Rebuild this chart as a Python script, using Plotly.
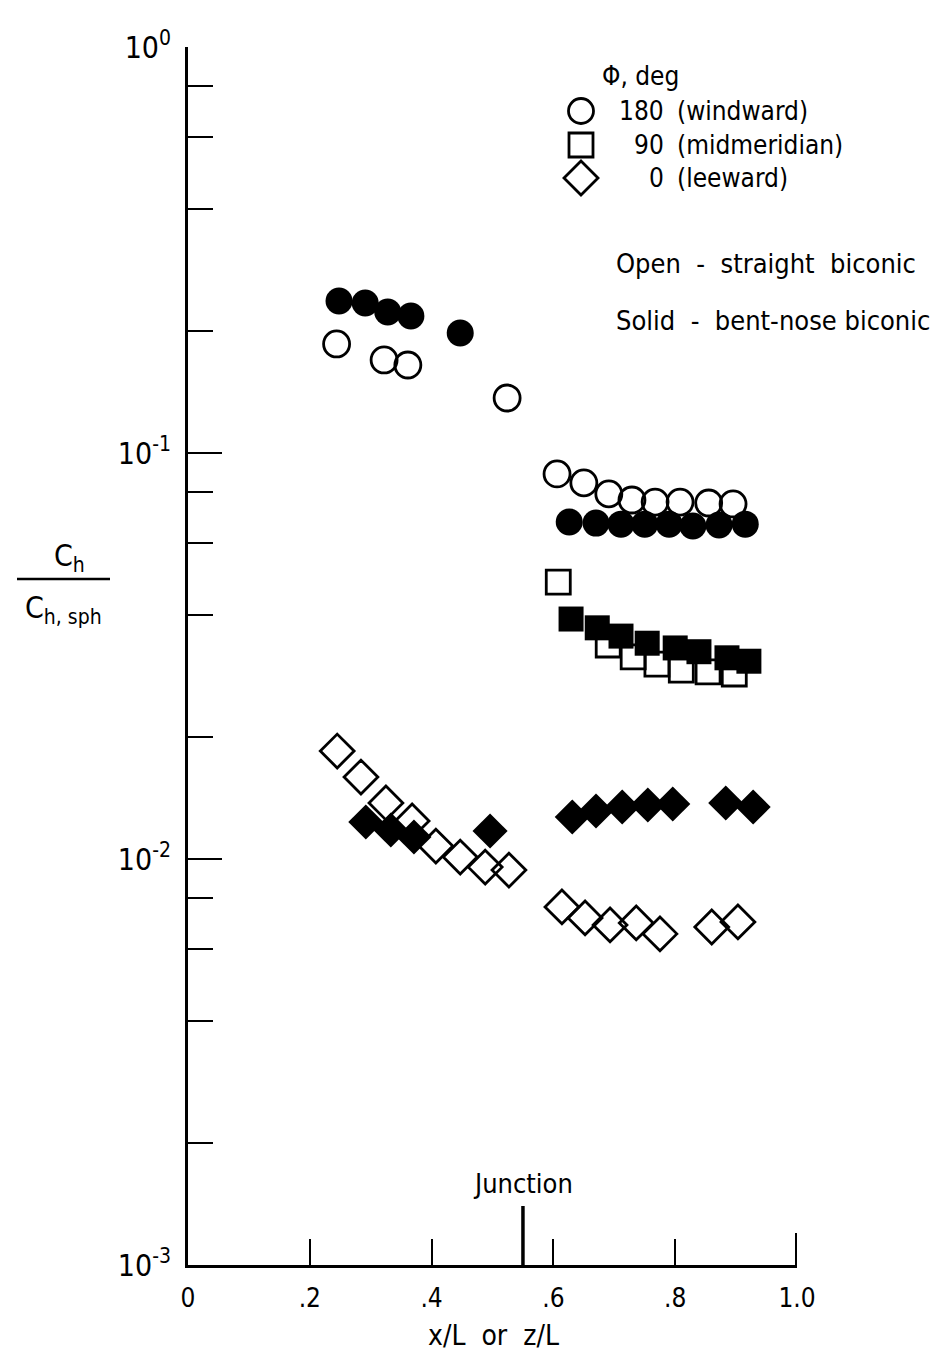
import plotly.graph_objects as go

# Heat-transfer ratio distributions along a biconic body (log scale)
# Straight biconic (open symbols)
wind_open_x = [0.244, 0.322, 0.361, 0.524, 0.606, 0.650, 0.691, 0.729, 0.767, 0.808, 0.855, 0.895]
wind_open_y = [0.1856, 0.1695, 0.1647, 0.1366, 0.0888, 0.0844, 0.0793, 0.0766, 0.0757, 0.0757, 0.0753, 0.0749]

mid_open_x = [0.608, 0.690, 0.731, 0.770, 0.810, 0.854, 0.897]
mid_open_y = [0.0481, 0.03366, 0.03145, 0.0302, 0.0292, 0.0289, 0.02855]

lee_open_x = [0.245, 0.284, 0.325, 0.368, 0.407, 0.447, 0.488, 0.527, 0.614, 0.652, 0.693, 0.736, 0.775, 0.860, 0.903]
lee_open_y = [0.01845, 0.01592, 0.01374, 0.01241, 0.01076, 0.01011, 0.00955, 0.00939,
              0.00762, 0.00716, 0.00688, 0.00696, 0.00654, 0.00680, 0.00700]

# Bent-nose biconic (solid symbols)
wind_solid_x = [0.248, 0.291, 0.328, 0.366, 0.447, 0.626, 0.670, 0.711, 0.750, 0.790, 0.829, 0.872, 0.915]
wind_solid_y = [0.2368, 0.2341, 0.2225, 0.2175, 0.1975, 0.0676, 0.0672, 0.0668, 0.0668, 0.0668, 0.0661, 0.0665, 0.0668]

mid_solid_x = [0.629, 0.672, 0.711, 0.754, 0.800, 0.839, 0.885, 0.921]
mid_solid_y = [0.0390, 0.0371, 0.0354, 0.0340, 0.0331, 0.0324, 0.0313, 0.0307]

lee_solid_x = [0.292, 0.333, 0.371, 0.496, 0.631, 0.670, 0.713, 0.755, 0.796, 0.883, 0.928]
lee_solid_y = [0.01234, 0.01179, 0.01133, 0.01172, 0.01269, 0.01313, 0.01343, 0.01358, 0.01366, 0.01374, 0.01343]

x_tickvals = [0, 0.2, 0.4, 0.6, 0.8, 1.0]
x_ticktext = ["0", ".2", ".4", ".6", ".8", "1.0"]
y_tickvals = [1e-3, 1e-2, 1e-1, 1e0]
y_ticktext = ["10<sup>-3</sup>", "10<sup>-2</sup>", "10<sup>-1</sup>", "10<sup>0</sup>"]
y_minorvals = [m * 10.0 ** e for e in (-3, -2, -1) for m in (2, 4, 6, 8)]
junction_x = 0.55

legend_rows = [("circle", "180", "(windward)"),
               ("square", "90", "(midmeridian)"),
               ("diamond", "0", "(leeward)")]

W, H = 952, 1356
ML, MR, MT, MB = 188, 155, 47, 91
PW, PH = W - ML - MR, H - MT - MB

FONT = "Liberation Sans Narrow, DejaVu Sans Condensed, Arial Narrow, sans-serif"
BLACK = "black"


def px(xp):
    return (xp - ML) / PW


def py(yp):
    return (H - MB - yp) / PH


fig = go.Figure()

open_sets = [(wind_open_x, wind_open_y, "circle-open", 26),
             (mid_open_x, mid_open_y, "square-open", 24),
             (lee_open_x, lee_open_y, "diamond-open", 26)]
solid_sets = [(wind_solid_x, wind_solid_y, "circle", 27),
              (mid_solid_x, mid_solid_y, "square", 25),
              (lee_solid_x, lee_solid_y, "diamond", 27)]

for xs, ys, sym, size in open_sets:
    fig.add_trace(go.Scatter(x=xs, y=ys, mode="markers", showlegend=False,
                             marker=dict(symbol=sym, size=size, color=BLACK,
                                         line=dict(width=2.8, color=BLACK))))
for xs, ys, sym, size in solid_sets:
    fig.add_trace(go.Scatter(x=xs, y=ys, mode="markers", showlegend=False,
                             marker=dict(symbol=sym, size=size, color=BLACK,
                                         line=dict(width=0, color=BLACK))))

fig.update_layout(
    width=W, height=H,
    margin=dict(l=ML, r=MR, t=MT, b=MB, pad=0),
    paper_bgcolor="white", plot_bgcolor="white",
    font=dict(family=FONT, color=BLACK, size=24),
    xaxis=dict(range=[0, 1.0], showline=True, linewidth=3, linecolor=BLACK,
               showgrid=False, zeroline=False, ticks="inside", ticklen=26,
               tickwidth=2, tickcolor=BLACK, tickvals=x_tickvals, ticktext=x_ticktext,
               tickfont=dict(size=26), ticklabelstandoff=8),
    yaxis=dict(type="log", range=[-3, 0], showline=True, linewidth=3, linecolor=BLACK,
               showgrid=False, zeroline=False, ticks="inside", ticklen=34,
               tickwidth=2, tickcolor=BLACK, tickvals=y_tickvals, ticktext=y_ticktext,
               tickfont=dict(size=30), ticklabelstandoff=8,
               minor=dict(ticks="inside", ticklen=25, tickwidth=2, tickcolor=BLACK,
                          tickvals=y_minorvals, showgrid=False)),
)

shapes = []
# heavier end tick at 1.0 and the junction marker
shapes.append(dict(type="line", xref="x", yref="paper", x0=1.0, x1=1.0,
                   y0=0, y1=32 / PH, line=dict(color=BLACK, width=4)))
shapes.append(dict(type="line", xref="x", yref="paper", x0=junction_x, x1=junction_x,
                   y0=0, y1=59 / PH, line=dict(color=BLACK, width=3.5)))

# fraction bar of the y-axis title
shapes.append(dict(type="line", xref="paper", yref="paper", x0=px(17), x1=px(110),
                   y0=py(579), y1=py(579), line=dict(color=BLACK, width=2.5)))

# legend symbols
lw = 2.8
cx, r = 581, 12.5
shapes.append(dict(type="circle", xref="paper", yref="paper",
                   x0=px(cx - r), x1=px(cx + r), y0=py(111 + r), y1=py(111 - r),
                   line=dict(color=BLACK, width=lw)))
s = 12
shapes.append(dict(type="rect", xref="paper", yref="paper",
                   x0=px(cx - s), x1=px(cx + s), y0=py(145 + s), y1=py(145 - s),
                   line=dict(color=BLACK, width=lw)))
d, dy = 17, 178
shapes.append(dict(type="path", xref="paper", yref="paper",
                   path=(f"M {px(cx - d)},{py(dy)} L {px(cx)},{py(dy - d)} "
                         f"L {px(cx + d)},{py(dy)} L {px(cx)},{py(dy + d)} Z"),
                   line=dict(color=BLACK, width=lw)))
fig.update_layout(shapes=shapes)

ann = []


def text(xp, yp, t, size=24, xanchor="left"):
    ann.append(dict(x=px(xp), y=py(yp), xref="paper", yref="paper", text=t,
                    showarrow=False, xanchor=xanchor, yanchor="middle",
                    font=dict(size=size, family=FONT, color=BLACK)))


text(600, 76, "Φ, deg", size=26)
row_y = [111, 145, 178]
for (sym, num, lab), yy in zip(legend_rows, row_y):
    text(666, yy, num, size=26, xanchor="right")
    text(675, yy, lab, size=26)
text(614, 263, "Open  -  straight  biconic", size=27)
text(614, 320, "Solid  -  bent-nose biconic", size=27)
text(523, 1183, "Junction", size=27, xanchor="center")
text(493, 1335, "x/L  or  z/L", size=28, xanchor="center")
text(69, 557, "C<sub>h</sub>", size=30, xanchor="center")
text(63, 609, "C<sub>h, sph</sub>", size=30, xanchor="center")
fig.update_layout(annotations=ann)

fig.write_html("out.html")
